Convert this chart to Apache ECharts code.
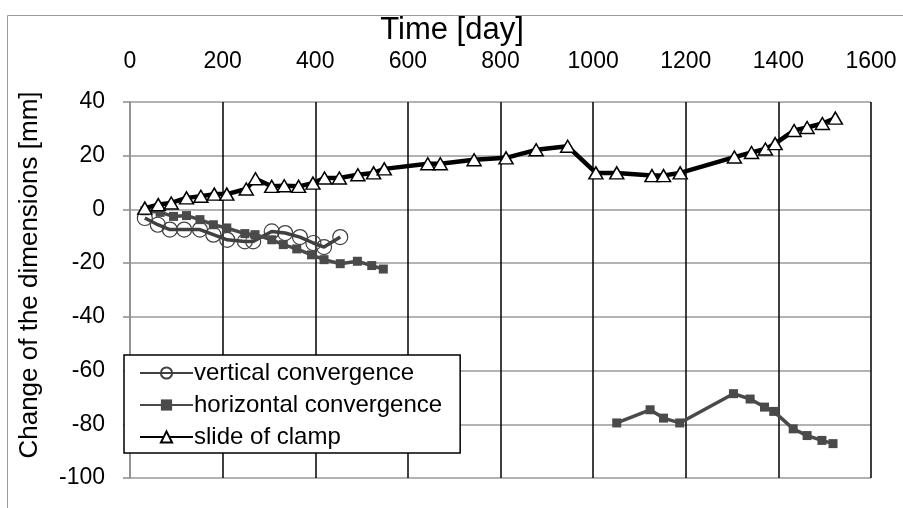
<!DOCTYPE html>
<html>
<head>
    <meta charset="utf-8">
    <title>Convergence and slide of clamp</title>
    <script src="https://cdn.jsdelivr.net/npm/echarts@6/dist/echarts.min.js"></script>
    <style>
        html, body { margin: 0; padding: 0; background: #fff; }
        #chart { width: 903px; height: 508px; }
    </style>
</head>
<body>
<div id="chart"></div>
<script>
    // values (days, mm)
    var vertDays = [32, 60, 86, 117, 151, 180, 210, 248, 266, 306, 335, 367, 396, 419, 454];
    var vertMm = [-3.2, -5.7, -7.5, -7.5, -7.5, -9.4, -11.3, -11.9, -11.9, -8.2, -8.8, -10.3, -12.5, -14.0, -10.3];

    // horizontal convergence comes in two pieces with a gap in between
    var horizDaysA = [32, 65, 94, 122, 151, 180, 209, 248, 270, 306, 331, 360, 392, 419, 454, 491, 522, 547];
    var horizMmA = [-0.5, -1.1, -2.6, -2.3, -3.8, -5.7, -6.9, -9.0, -9.4, -11.3, -13.1, -14.7, -16.9, -18.7, -20.2, -19.3, -20.9, -22.2];
    var horizDaysB = [1051, 1123, 1152, 1187, 1303, 1339, 1370, 1390, 1432, 1462, 1494, 1518];
    var horizMmB = [-79.5, -74.6, -77.7, -79.5, -68.6, -70.6, -73.6, -75.2, -81.7, -84.2, -86.0, -87.2];

    var slideDays = [32, 61, 89, 122, 153, 182, 209, 251, 271, 306, 333, 364, 395, 420, 452, 492, 526, 549,
        643, 670, 743, 812, 877, 945, 1006, 1051, 1127, 1152, 1188, 1305, 1342, 1372, 1393, 1434, 1462, 1495, 1523];
    var slideMm = [0.5, 1.8, 2.4, 4.3, 4.9, 5.7, 5.7, 7.6, 11.4, 8.6, 8.8, 8.6, 9.8, 11.7, 11.7, 12.9, 13.6, 15.1,
        17.0, 17.0, 18.5, 19.2, 22.2, 23.5, 13.6, 13.6, 12.6, 12.6, 13.6, 19.5, 21.2, 22.5, 24.5, 29.4, 30.5, 32.0, 34.0];

    var seriesNames = ['vertical convergence', 'horizontal convergence', 'slide of clamp'];
    var xTitle = 'Time [day]';
    var yTitle = 'Change of the dimensions [mm]';

    function pairs(xs, ys) {
        return xs.map(function (x, i) { return [x, ys[i]]; });
    }

    var font = '"Liberation Sans", Arial, sans-serif';
    var chart = echarts.init(document.getElementById('chart'));

    var option = {
        animation: false,
        textStyle: { fontFamily: font, color: '#000' },
        graphic: [{
            type: 'rect',
            shape: { x: 7.5, y: 15.5, width: 1000, height: 600 },
            style: { fill: 'none', stroke: '#9a9a9a', lineWidth: 1 },
            silent: true
        }, {
            // axis titles placed by hand, they sit off-centre in the original
            type: 'text',
            x: 452, y: 30,
            style: { text: xTitle, font: '31px ' + font, fill: '#000', textAlign: 'center', textVerticalAlign: 'middle' },
            silent: true
        }, {
            type: 'text',
            x: 30, y: 275,
            rotation: Math.PI / 2,
            style: { text: yTitle, font: '26px ' + font, fill: '#000', textAlign: 'center', textVerticalAlign: 'middle' },
            silent: true
        }],
        grid: { left: 130, right: 32, top: 102, bottom: 30 },
        legend: {
            orient: 'vertical',
            left: 124,
            top: 355,
            padding: [6, 18, 4, 15],
            itemGap: 8,
            itemWidth: 53,
            itemHeight: 14,
            borderColor: '#000',
            borderWidth: 1.5,
            borderRadius: 0,
            backgroundColor: '#fff',
            textStyle: { fontFamily: font, fontSize: 24, color: '#000', padding: [0, 0, 0, -4] },
            data: seriesNames
        },
        xAxis: {
            type: 'value',
            position: 'top',
            min: 0,
            max: 1600,
            interval: 200,
            axisLine: { show: false },
            axisTick: { show: false },
            axisLabel: {
                fontSize: 23, color: '#000', margin: 29,
                formatter: function (v) { return String(v); }
            },
            splitLine: {
                show: true,
                lineStyle: {
                    color: ['#8c8c8c', '#000', '#000', '#000', '#000', '#000', '#000', '#000', '#000'],
                    width: 1.5
                }
            }
        },
        yAxis: {
            type: 'value',
            min: -100,
            max: 40,
            interval: 20,
            axisLine: { show: true, onZero: false, lineStyle: { color: '#8c8c8c', width: 1.5 } },
            axisTick: { show: true, length: 7, lineStyle: { color: '#8c8c8c', width: 1.5 } },
            axisLabel: { fontSize: 23, color: '#000', margin: 25 },
            splitLine: { show: true, lineStyle: { color: '#9a9a9a', width: 1.5 } }
        },
        series: [{
            name: seriesNames[0],
            type: 'line',
            data: pairs(vertDays, vertMm),
            symbol: 'circle',
            symbolSize: 15,
            showAllSymbol: true,
            lineStyle: { color: '#404040', width: 3.5 },
            itemStyle: { color: 'rgba(255,255,255,0)', borderColor: '#404040', borderWidth: 1.2 },
            z: 2
        }, {
            name: seriesNames[1],
            type: 'line',
            data: pairs(horizDaysA, horizMmA).concat([['-', '-']], pairs(horizDaysB, horizMmB)),
            connectNulls: false,
            symbol: 'rect',
            symbolSize: 9,
            showAllSymbol: true,
            lineStyle: { color: '#4a4a4a', width: 3.5 },
            itemStyle: { color: '#4a4a4a', borderWidth: 0 },
            z: 3
        }, {
            name: seriesNames[2],
            type: 'line',
            data: pairs(slideDays, slideMm),
            symbol: 'triangle',
            symbolSize: [14, 12],
            showAllSymbol: true,
            lineStyle: { color: '#000', width: 4.5 },
            itemStyle: { color: '#fff', borderColor: '#000', borderWidth: 1.5 },
            z: 4
        }]
    };

    chart.setOption(option);
</script>
</body>
</html>
